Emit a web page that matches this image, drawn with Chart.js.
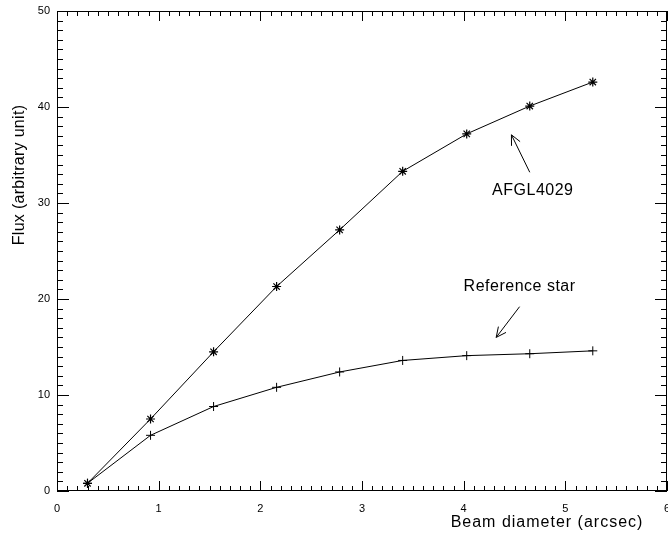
<!DOCTYPE html>
<html>
<head>
<meta charset="utf-8">
<script src="https://cdn.jsdelivr.net/npm/chart.js@4/dist/chart.umd.min.js"></script>
<style>
  html, body { margin: 0; padding: 0; background: #fff; }
  #wrap { width: 668px; height: 533px; }
</style>
</head>
<body>
<div id="wrap"><canvas id="myChart"></canvas></div>
<script>
// beam diameters (arcsec)
const beamDiam = [0.30, 0.92, 1.54, 2.16, 2.78, 3.40, 4.03, 4.65, 5.27];
// flux for the source and the reference star
const afglFlux = [0.8, 7.5, 14.5, 21.3, 27.2, 33.3, 37.2, 40.1, 42.6];
const refFlux  = [0.8, 5.8, 8.8, 10.8, 12.4, 13.6, 14.1, 14.3, 14.6];

const xTicks = [0, 1, 2, 3, 4, 5, 6];
const yTicks = [0, 10, 20, 30, 40, 50];

const toPts = (xs, ys) => xs.map((x, i) => ({ x: x, y: ys[i] }));

// notes drawn on the plot, in data units
const notes = [
  { text: 'AFGL4029', x: 4.68, y: 31.3, from: [4.65, 33.2], to: [4.47, 37.1] },
  { text: 'Reference star', x: 4.55, y: 21.3, from: [4.55, 19.2], to: [4.32, 16.0] }
];

// IDL-like frame: box with inward ticks on all sides, axis titles, notes
const framePlugin = {
  id: 'frame',
  afterDraw(chart) {
    const ctx = chart.ctx;
    const a = chart.chartArea;
    const xs = chart.scales.x, ys = chart.scales.y;
    ctx.save();
    ctx.strokeStyle = '#000';
    ctx.lineWidth = 1;
    ctx.strokeRect(a.left + 0.5, a.top + 0.5, a.right - a.left - 1, a.bottom - a.top - 1);

    ctx.beginPath();
    for (let i = 0; i <= 60; i++) {
      const px = Math.round(xs.getPixelForValue(i / 10)) + 0.5;
      const len = i % 10 === 0 ? 10 : 5;
      ctx.moveTo(px, a.bottom); ctx.lineTo(px, a.bottom - len);
      ctx.moveTo(px, a.top); ctx.lineTo(px, a.top + len);
    }
    for (let j = 0; j <= 50; j++) {
      const py = Math.round(ys.getPixelForValue(j)) + 0.5;
      const len = j % 10 === 0 ? 12 : 6;
      ctx.moveTo(a.left, py); ctx.lineTo(a.left + len, py);
      ctx.moveTo(a.right, py); ctx.lineTo(a.right - len, py);
    }
    ctx.stroke();

    // axis titles
    ctx.fillStyle = '#000';
    ctx.font = '16px "Liberation Sans", Arial, sans-serif';
    ctx.letterSpacing = '1px';
    ctx.textAlign = 'center';
    ctx.textBaseline = 'middle';
    ctx.fillText('Beam diameter (arcsec)', 547, 523);
    ctx.save();
    ctx.translate(20, 175);
    ctx.rotate(-Math.PI / 2);
    ctx.letterSpacing = '0.3px';
    ctx.fillText('Flux (arbitrary unit)', 0, 0);
    ctx.restore();

    // notes with arrows
    ctx.letterSpacing = '0.5px';
    notes.forEach(n => {
      ctx.fillText(n.text, xs.getPixelForValue(n.x), ys.getPixelForValue(n.y));
      const x0 = xs.getPixelForValue(n.from[0]), y0 = ys.getPixelForValue(n.from[1]);
      const x1 = xs.getPixelForValue(n.to[0]), y1 = ys.getPixelForValue(n.to[1]);
      const ang = Math.atan2(y1 - y0, x1 - x0);
      ctx.beginPath();
      ctx.moveTo(x0, y0); ctx.lineTo(x1, y1);
      ctx.moveTo(x1, y1); ctx.lineTo(x1 - 11 * Math.cos(ang - 0.45), y1 - 11 * Math.sin(ang - 0.45));
      ctx.moveTo(x1, y1); ctx.lineTo(x1 - 11 * Math.cos(ang + 0.45), y1 - 11 * Math.sin(ang + 0.45));
      ctx.stroke();
    });
    ctx.restore();
  }
};

const ctx = document.getElementById('myChart').getContext('2d');
const chart = new Chart(ctx, {
  type: 'scatter',
  data: {
    datasets: [
      {
        label: 'AFGL4029',
        data: toPts(beamDiam, afglFlux),
        showLine: true,
        borderColor: '#000',
        borderWidth: 1,
        pointStyle: 'star',
        pointRadius: 4.5,
        pointBorderWidth: 1.2,
        pointBorderColor: '#000',
        pointBackgroundColor: '#000'
      },
      {
        label: 'Reference star',
        data: toPts(beamDiam, refFlux),
        showLine: true,
        borderColor: '#000',
        borderWidth: 1,
        pointStyle: 'cross',
        pointRadius: 4.5,
        pointBorderWidth: 1,
        pointBorderColor: '#000'
      }
    ]
  },
  options: {
    responsive: true,
    maintainAspectRatio: false,
    animation: false,
    layout: { autoPadding: false, padding: { top: 11, right: 1, left: 0, bottom: 0 } },
    plugins: {
      legend: { display: false },
      tooltip: { enabled: false }
    },
    scales: {
      x: {
        type: 'linear',
        min: 0,
        max: 6,
        afterBuildTicks: s => { s.ticks = xTicks.map(v => ({ value: v })); },
        afterFit: s => { s.height = 42; s.paddingLeft = 0; s.paddingRight = 0; },
        grid: { display: false, drawTicks: false, tickLength: 0 },
        border: { display: false },
        ticks: {
          color: '#000',
          padding: 11,
          maxRotation: 0,
          autoSkip: false,
          font: { family: '"Liberation Sans", Arial, sans-serif', size: 11 }
        }
      },
      y: {
        type: 'linear',
        min: 0,
        max: 50,
        afterBuildTicks: s => { s.ticks = yTicks.map(v => ({ value: v })); },
        afterFit: s => { s.width = 57; s.paddingTop = 0; s.paddingBottom = 0; },
        grid: { display: false, drawTicks: false, tickLength: 0 },
        border: { display: false },
        ticks: {
          color: '#000',
          padding: 7,
          autoSkip: false,
          font: { family: '"Liberation Sans", Arial, sans-serif', size: 11 }
        }
      }
    }
  },
  plugins: [framePlugin]
});
</script>
</body>
</html>
